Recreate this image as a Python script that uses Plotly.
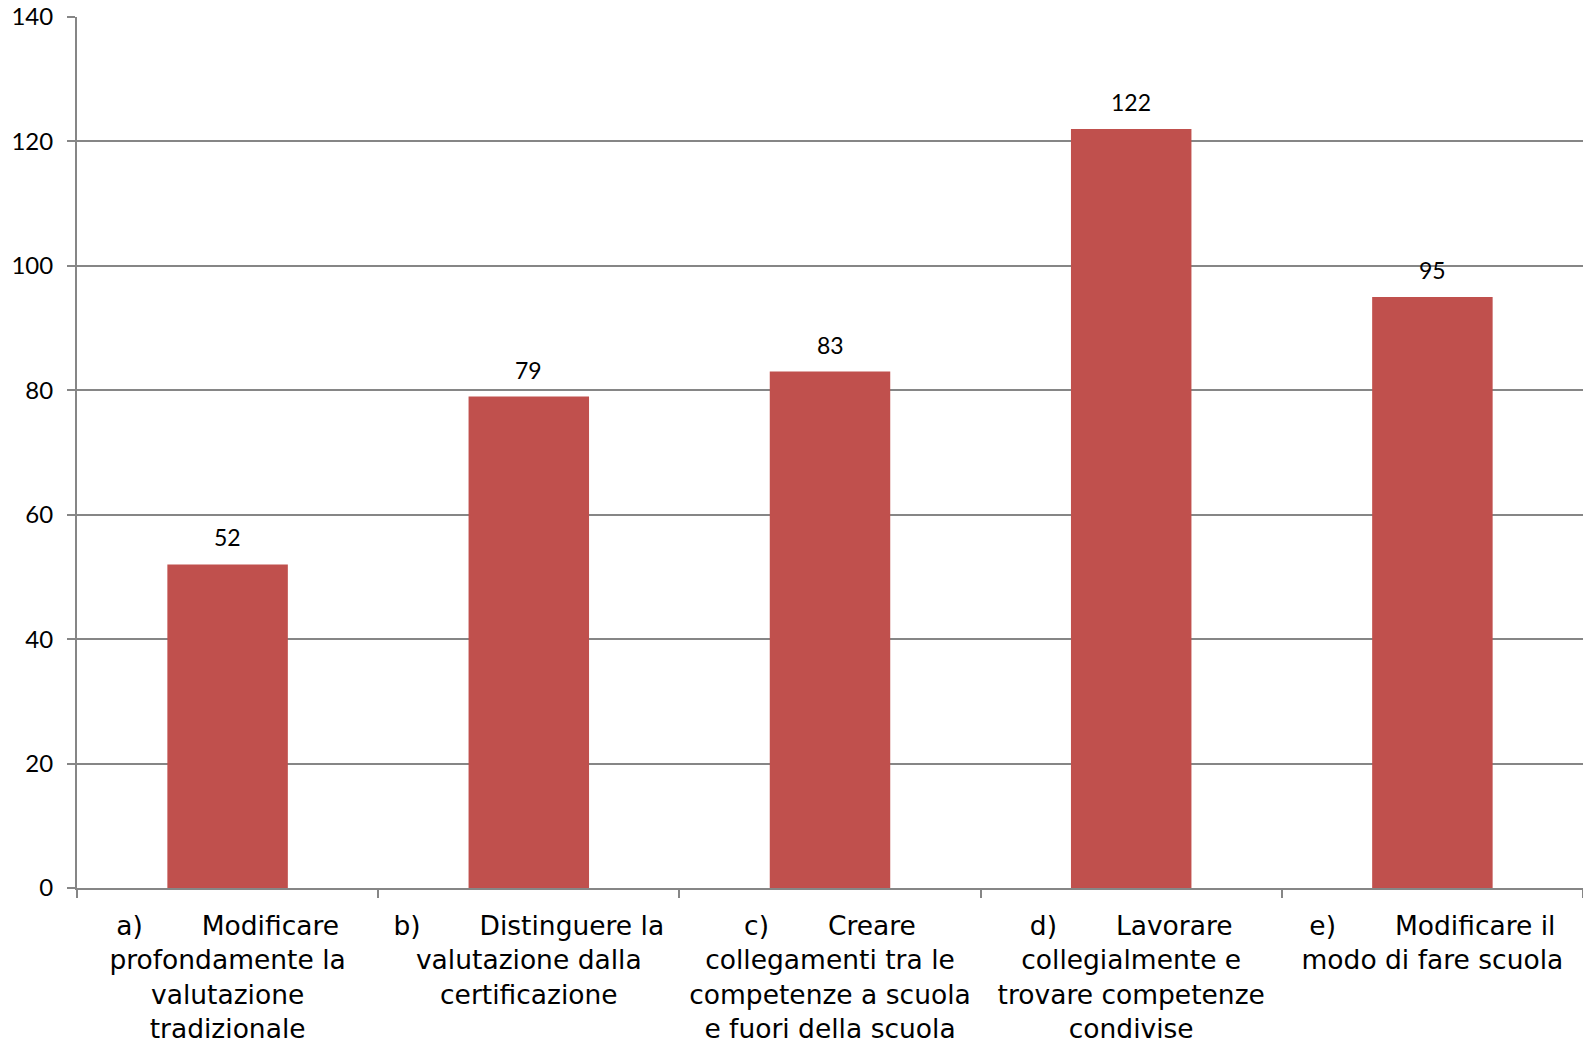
import plotly.graph_objects as go

categories = [
    "a)\u00a0\u00a0\u00a0\u00a0\u00a0\u00a0\u00a0Modificare<br>profondamente la<br>valutazione<br>tradizionale",
    "b)\u00a0\u00a0\u00a0\u00a0\u00a0\u00a0\u00a0Distinguere la<br>valutazione dalla<br>certificazione",
    "c)\u00a0\u00a0\u00a0\u00a0\u00a0\u00a0\u00a0Creare<br>collegamenti tra le<br>competenze a scuola<br>e fuori della scuola",
    "d)\u00a0\u00a0\u00a0\u00a0\u00a0\u00a0\u00a0Lavorare<br>collegialmente e<br>trovare competenze<br>condivise",
    "e)\u00a0\u00a0\u00a0\u00a0\u00a0\u00a0\u00a0Modificare il<br>modo di fare scuola",
]
values = [52, 79, 83, 122, 95]
y_ticks = [0, 20, 40, 60, 80, 100, 120, 140]

grid = "#868686"
bar_color = "#C0504D"

fig = go.Figure()
fig.add_trace(go.Bar(x=categories, y=values, marker=dict(color=bar_color, line=dict(width=0)),
                     hoverinfo="skip"))

for c, v in zip(categories, values):
    fig.add_annotation(x=c, y=v, text=str(v), showarrow=False, yanchor="bottom", yshift=11,
                       font=dict(family="Lato", size=23, color="black"))

fig.update_layout(
    width=1583, height=1041,
    margin=dict(l=77, r=0, t=17, b=153),
    plot_bgcolor="white", paper_bgcolor="white",
    bargap=0.6, showlegend=False,
)
fig.update_xaxes(
    showline=True, linecolor=grid, linewidth=2,
    ticks="outside", tickson="boundaries", ticklen=8, tickcolor=grid, tickwidth=2,
    tickfont=dict(family="DejaVu Sans", size=26.5, color="black"),
    ticklabelstandoff=13, automargin=False, tickangle=0,
)
fig.update_yaxes(
    range=[0, 140], tickvals=y_ticks,
    showgrid=True, gridcolor=grid, gridwidth=2,
    showline=True, linecolor=grid, linewidth=2,
    ticks="outside", ticklen=8, tickcolor=grid, tickwidth=2,
    tickfont=dict(family="Lato", size=24, color="black"),
    ticklabelstandoff=9, automargin=False, zeroline=False,
)

# page has a default 8px body margin; remove it so the figure fills the window
fig.write_html("out.html", config={"displayModeBar": False},
               post_script="document.body.style.margin='0';document.body.style.overflow='hidden';")
